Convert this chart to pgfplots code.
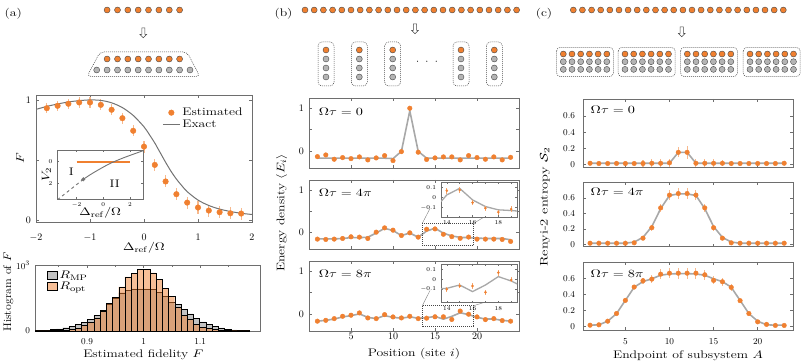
\documentclass[border=0pt]{standalone}
\usepackage{graphicx}
\usepackage{pgfplots}
\pgfplotsset{compat=1.18}
\usetikzlibrary{shapes.arrows}
\definecolor{ora}{RGB}{240,128,48}
\definecolor{lgray}{RGB}{168,168,168}
\definecolor{dgray}{RGB}{115,115,115}
\definecolor{framec}{RGB}{110,110,110}
\definecolor{dotgray}{RGB}{180,180,180}
\definecolor{edgec}{RGB}{70,70,70}
\definecolor{histgray}{RGB}{195,195,195}
\newcommand\lab{\fontsize{11}{13}\selectfont}
\newcommand\tck{\fontsize{10}{11}\selectfont}
\newcommand\tny{\fontsize{6}{7}\selectfont}
\newcommand\sx[2][1.25]{\scalebox{#1}[1]{#2}}
\pgfplotsset{
  fr/.style={scale only axis, anchor=south west,
    axis line style={framec, line width=0.9pt},
    tick style={framec, line width=0.6pt},
    tick align=inside, major tick length=3pt, minor tick length=2pt,
    tick label style={font=\tck}, label style={font=\lab},
    yticklabel style={xshift=-1.5pt}},
  dots/.style={only marks, mark=*, mark size=3pt, mark options={fill=#1, draw=edgec, line width=0.4pt}},
}
\tikzset{
  box/.style={draw=edgec, line width=0.5pt, dash pattern=on 1pt off 1pt, rounded corners=4pt},
  arr/.style={draw=edgec, line width=0.5pt, single arrow, single arrow head extend=1.8pt, minimum height=10pt, inner sep=1.3pt, shape border rotate=270},
}
\begin{document}
\begin{tikzpicture}
\path[use as bounding box] (0,0) rectangle (806pt,364pt);
% ---------------- overlay in pixel coordinates ----------------
\begin{axis}[at={(0pt,0pt)}, anchor=south west, scale only axis, width=806pt, height=364pt,
  xmin=0, xmax=806, ymin=0, ymax=364, y dir=reverse, hide axis, clip=false]
% (a) schematic
\addplot[dots=ora] coordinates {(107.1,10)(117.5,10)(127.8,10)(138.2,10)(148.5,10)(158.9,10)(169.3,10)(179.6,10)};
\addplot[dots=ora] coordinates {(107.1,59)(117.5,59)(127.8,59)(138.2,59)(148.5,59)(158.9,59)(169.3,59)(179.6,59)};
\addplot[dots=dotgray] coordinates {(96.7,70)(107.1,70)(117.5,70)(127.8,70)(138.2,70)(148.5,70)(158.9,70)(169.3,70)(179.6,70)(190.0,70)};
\draw[box] (axis cs:100,52) -- (axis cs:187,52) -- (axis cs:200,76.5) -- (axis cs:87,76.5) -- cycle;
\node[arr] at (axis cs:143.3,32) {};
% (b) schematic
\addplot[dots=ora] coordinates {(305.0,10)(314.2,10)(323.4,10)(332.6,10)(341.8,10)(351.0,10)(360.2,10)(369.4,10)(378.6,10)(387.8,10)(397.0,10)(406.2,10)(415.4,10)(424.6,10)(433.8,10)(443.0,10)(452.2,10)(461.4,10)(470.6,10)(479.8,10)(489.0,10)(498.2,10)(507.4,10)(516.6,10)};
\node[arr] at (axis cs:415,28) {};
\addplot[dots=ora] coordinates {(326,50)(359.3,50)(392.7,50)(461,50)(494.3,50)};
\addplot[dots=dotgray] coordinates {(326,59)(359.3,59)(392.7,59)(461,59)(494.3,59)
  (326,68)(359.3,68)(392.7,68)(461,68)(494.3,68)(326,77)(359.3,77)(392.7,77)(461,77)(494.3,77)};
\draw[box] (axis cs:318,42) rectangle (axis cs:334,86);
\draw[box] (axis cs:351.3,42) rectangle (axis cs:367.3,86);
\draw[box] (axis cs:384.7,42) rectangle (axis cs:400.7,86);
\draw[box] (axis cs:453,42) rectangle (axis cs:469,86);
\draw[box] (axis cs:486.3,42) rectangle (axis cs:502.3,86);
\node[font=\lab] at (axis cs:427,62) {$\cdot\hspace{4pt}\cdot\hspace{4pt}\cdot$};
% (c) schematic
\addplot[dots=ora] coordinates {(573.3,10)(582.4,10)(591.6,10)(600.7,10)(609.8,10)(619.0,10)(628.1,10)(637.2,10)(646.3,10)(655.5,10)(664.6,10)(673.7,10)(682.9,10)(692.0,10)(701.1,10)(710.3,10)(719.4,10)(728.5,10)(737.6,10)(746.8,10)(755.9,10)(765.0,10)(774.2,10)(783.3,10)};
\node[arr] at (axis cs:681.7,31) {};
\addplot[dots=ora] coordinates {(563.3,54)(572.0,54)(580.7,54)(589.4,54)(598.1,54)(606.8,54)
  (625.0,54)(633.7,54)(642.4,54)(651.1,54)(659.8,54)(668.5,54)
  (687.3,54)(696.0,54)(704.7,54)(713.4,54)(722.1,54)(730.8,54)
  (750.0,54)(758.7,54)(767.4,54)(776.1,54)(784.8,54)(793.5,54)};
\addplot[dots=dotgray] coordinates {(563.3,61.7)(572.0,61.7)(580.7,61.7)(589.4,61.7)(598.1,61.7)(606.8,61.7)
  (625.0,61.7)(633.7,61.7)(642.4,61.7)(651.1,61.7)(659.8,61.7)(668.5,61.7)
  (687.3,61.7)(696.0,61.7)(704.7,61.7)(713.4,61.7)(722.1,61.7)(730.8,61.7)
  (750.0,61.7)(758.7,61.7)(767.4,61.7)(776.1,61.7)(784.8,61.7)(793.5,61.7)
  (563.3,69.4)(572.0,69.4)(580.7,69.4)(589.4,69.4)(598.1,69.4)(606.8,69.4)
  (625.0,69.4)(633.7,69.4)(642.4,69.4)(651.1,69.4)(659.8,69.4)(668.5,69.4)
  (687.3,69.4)(696.0,69.4)(704.7,69.4)(713.4,69.4)(722.1,69.4)(730.8,69.4)
  (750.0,69.4)(758.7,69.4)(767.4,69.4)(776.1,69.4)(784.8,69.4)(793.5,69.4)};
\draw[box] (axis cs:556.5,47.3) rectangle (axis cs:613.5,76.7);
\draw[box] (axis cs:618.2,47.3) rectangle (axis cs:675.2,76.7);
\draw[box] (axis cs:680.5,47.3) rectangle (axis cs:737.5,76.7);
\draw[box] (axis cs:743.2,47.3) rectangle (axis cs:800.2,76.7);
% panel letters and shared labels
\node[font=\lab] at (axis cs:13.3,13.5) {\sx{(a)}};
\node[font=\lab] at (axis cs:283.5,13.5) {\sx{(b)}};
\node[font=\lab] at (axis cs:544,13.5) {\sx{(c)}};
\node[font=\lab, rotate=90] at (axis cs:281.7,213) {\sx{Energy density $\langle E_i\rangle$}};
\node[font=\lab, rotate=90] at (axis cs:545,207) {\sx[1.32]{Renyi-2 entropy $\mathcal{S}_2$}};
% inset connectors in (b)
\draw[gray, line width=0.4pt] (axis cs:422.3,223.3) -- (axis cs:430,208.5);
\draw[gray, line width=0.4pt] (axis cs:473.7,223.3) -- (axis cs:483.3,217.5);
\draw[gray, line width=0.4pt] (axis cs:422.3,305.7) -- (axis cs:430,290.5);
\draw[gray, line width=0.4pt] (axis cs:473.7,305.7) -- (axis cs:483.3,302.7);
\end{axis}

% ---------------- (a) main ----------------
\begin{axis}[fr, at={(36pt,141.7pt)}, width=216pt, height=127.3pt,
  xmin=-2, xmax=2, ymin=-0.02, ymax=1.04,
  xtick={-2,-1,0,1,2}, ytick={0,1}, extra y ticks={0.5}, extra y tick labels={},
  xticklabel style={yshift=-8pt},
  xlabel={\sx{$\Delta_{\mathrm{ref}}/\Omega$}}, ylabel={\sx{$F$}},
  xlabel style={at={(axis description cs:0.5,-0.2)}, anchor=center},
  ylabel style={at={(axis description cs:-0.074,0.5)}, anchor=center},
  legend style={at={(0.57,0.93)}, anchor=north west, draw=none, fill=none, font=\lab, row sep=-1pt},
  legend cell align=left]
\addplot[only marks, mark=*, mark size=2.8pt, color=ora,
  error bars/.cd, y dir=both, y explicit, error mark=none,
  error bar style={line width=1.1pt, ora!55}]
coordinates {
(-1.8,0.930) +- (0,0.04)
(-1.6,0.950) +- (0,0.04)
(-1.4,0.967) +- (0,0.04)
(-1.2,0.978) +- (0,0.045)
(-1.0,0.978) +- (0,0.045)
(-0.8,0.958) +- (0,0.045)
(-0.6,0.917) +- (0,0.045)
(-0.4,0.847) +- (0,0.045)
(-0.2,0.742) +- (0,0.045)
(0.0,0.610) +- (0,0.05)
(0.2,0.458) +- (0,0.05)
(0.4,0.320) +- (0,0.05)
(0.6,0.214) +- (0,0.05)
(0.8,0.144) +- (0,0.05)
(1.0,0.103) +- (0,0.055)
(1.2,0.078) +- (0,0.05)
(1.4,0.064) +- (0,0.05)
(1.6,0.055) +- (0,0.05)
(1.8,0.053) +- (0,0.05)
};
\addlegendentry{\sx{Estimated}}
\addplot[no marks, dgray, line width=1pt, smooth] coordinates {
(-2,0.92)(-1.8,0.945)(-1.6,0.965)(-1.4,0.982)(-1.2,0.993)(-1.0,0.999)(-0.8,0.995)(-0.6,0.975)
(-0.4,0.935)(-0.2,0.87)(0,0.775)(0.1,0.71)(0.2,0.64)(0.3,0.56)(0.4,0.48)(0.5,0.405)(0.6,0.34)
(0.7,0.285)(0.8,0.235)(1.0,0.165)(1.2,0.12)(1.4,0.09)(1.6,0.07)(1.8,0.055)(2.0,0.045)};
\addlegendentry{\sx{Exact}}
\end{axis}

% ---------------- (a) inset ----------------
\begin{axis}[fr, at={(57.3pt,164.7pt)}, width=86pt, height=49.3pt,
  axis background/.style={fill=white},
  xmin=-3.45, xmax=3, ymin=-1.08, ymax=3.48, y dir=reverse,
  xtick={-2,0,2}, ytick={0,2}, major tick length=2pt,
  tick label style={font=\tny}, yticklabel style={xshift=0pt},
  xlabel={\sx{$\Delta_{\mathrm{ref}}/\Omega$}}, ylabel={\sx{$V_2$}},
  xlabel style={at={(axis description cs:0.5,-0.28)}, anchor=center},
  ylabel style={at={(axis description cs:-0.125,0.5)}, anchor=center}]
\addplot[no marks, ora, line width=1.8pt] coordinates {(-2,0)(2,0)};
\addplot[no marks, dgray, line width=0.9pt, smooth] coordinates {
(-1.5,1.63)(-1.0,1.22)(-0.5,0.85)(0,0.5)(0.5,0.17)(1.0,-0.1)(1.5,-0.35)(2.0,-0.58)(2.5,-0.8)(2.95,-1.0)};
\addplot[no marks, dgray, line width=0.9pt, dashed] coordinates {(-1.5,1.63)(-3.4,3.48)};
\addplot[only marks, mark=*, mark size=1.8pt, dgray] coordinates {(-1.5,1.63)};
\node[font=\lab] at (axis cs:-2.4,0.95) {\sx{I}};
\node[font=\lab] at (axis cs:0.86,2.0) {\sx{II}};
\end{axis}

% ---------------- (a) histogram ----------------
\begin{axis}[fr, at={(35pt,33pt)}, width=225.7pt, height=66pt,
  xmin=0.808, xmax=1.207, ymin=0, ymax=1000,
  xtick={0.9,1,1.1}, minor xtick={0.85,0.95,1.05,1.15},
  ytick={0,1000}, yticklabels={$0$,$10^3$},
  tick label style={font=\fontsize{9.5}{10}\selectfont}, xticklabel style={yshift=-4pt},
  xlabel={\sx{Estimated fidelity $F$}}, ylabel={\sx[1.08]{Histogram of $F$}},
  xlabel style={at={(axis description cs:0.48,-0.36)}, anchor=center},
  ylabel style={at={(axis description cs:-0.118,0.59)}, anchor=center},
  legend style={at={(0.04,0.97)}, anchor=north west, draw=none, fill=none, font=\lab, row sep=-2pt},
  legend image code/.code={\draw[#1] (0pt,-4pt) rectangle (10pt,4pt);},
  legend cell align=left]
\addplot[ybar interval, fill=histgray, draw=black, line width=0.4pt] coordinates {
(0.802,5)(0.813,8)(0.824,12)(0.835,20)(0.846,32)(0.857,50)(0.868,72)(0.879,100)(0.890,135)
(0.901,175)(0.912,235)(0.923,310)(0.934,410)(0.945,500)(0.956,580)(0.967,620)(0.978,640)
(0.989,640)(1.000,640)(1.011,630)(1.022,590)(1.033,520)(1.044,430)(1.055,400)(1.066,330)
(1.077,260)(1.088,195)(1.099,140)(1.110,100)(1.121,70)(1.132,48)(1.143,30)(1.154,18)
(1.165,10)(1.176,6)(1.187,6)};
\addlegendentry{\sx{$R_{\mathrm{MP}}$}}
\addplot[ybar interval, fill=ora, fill opacity=0.5, draw=black, line width=0.4pt] coordinates {
(0.802,1)(0.813,2)(0.824,3)(0.835,5)(0.846,8)(0.857,14)(0.868,25)(0.879,45)(0.890,85)
(0.901,130)(0.912,200)(0.923,300)(0.934,415)(0.945,510)(0.956,670)(0.967,820)(0.978,870)
(0.989,930)(1.000,930)(1.011,880)(1.022,780)(1.033,650)(1.044,520)(1.055,360)(1.066,240)
(1.077,175)(1.088,100)(1.099,60)(1.110,35)(1.121,20)(1.132,12)(1.143,6)(1.154,4)
(1.165,2)(1.176,1)(1.187,1)};
\addlegendentry{\sx{$R_{\mathrm{opt}}$}}
\end{axis}

% ---------------- (b) ----------------
\pgfplotsset{bax/.style={fr, width=210pt, xmin=0, xmax=25, ymin=-0.4, ymax=1.24,
  xtick={5,10,15,20}, ytick={0,1}, extra y ticks={0.5}, extra y tick labels={}},
  bline/.style={no marks, lgray, line width=1.6pt},
  bpts/.style={only marks, mark=*, mark size=2.3pt, color=ora}}
\begin{axis}[bax, at={(309pt,196pt)}, height=70pt, xticklabels={}]
\addplot[bline] coordinates {(1,-0.17)(2,-0.17)(3,-0.17)(4,-0.17)(5,-0.17)(6,-0.17)(7,-0.17)(8,-0.17)(9,-0.17)(10,-0.18)(11,-0.01)(12,0.94)(13,-0.01)(14,-0.17)(15,-0.17)(16,-0.17)(17,-0.17)(18,-0.17)(19,-0.17)(20,-0.17)(21,-0.17)(22,-0.17)(23,-0.17)(24,-0.17)};
\addplot[bpts] coordinates {(1,-0.133)(2,-0.094)(3,-0.195)(4,-0.156)(5,-0.18)(6,-0.14)(7,-0.21)(8,-0.164)(9,-0.11)(10,-0.227)(11,-0.016)(12,1.0)(13,-0.03)(14,-0.2)(15,-0.164)(16,-0.14)(17,-0.14)(18,-0.21)(19,-0.11)(20,-0.156)(21,-0.195)(22,-0.14)(23,-0.21)(24,-0.15)};
\node[font=\lab, anchor=west] at (rel axis cs:0.03,0.81) {\sx[1.3]{$\Omega\tau = 0$}};
\end{axis}
\begin{axis}[bax, at={(309pt,115pt)}, height=69pt, xticklabels={}]
\addplot[bline] coordinates {(1,-0.16)(2,-0.16)(3,-0.16)(4,-0.15)(5,-0.13)(6,-0.13)(7,-0.12)(8,-0.02)(9,0.09)(10,0.04)(11,-0.08)(12,-0.02)(13,-0.12)(14,0.027)(15,0.093)(16,-0.023)(17,-0.09)(18,-0.123)(19,-0.13)(20,-0.14)(21,-0.15)(22,-0.15)(23,-0.15)(24,-0.18)};
\addplot[bpts] coordinates {(1,-0.165)(2,-0.173)(3,-0.165)(4,-0.15)(5,-0.11)(6,-0.118)(7,-0.15)(8,0.0)(9,0.102)(10,0.047)(11,-0.079)(12,-0.016)(13,-0.118)(14,0.07)(15,0.077)(16,-0.05)(17,-0.106)(18,-0.146)(19,-0.116)(20,-0.165)(21,-0.165)(22,-0.165)(23,-0.173)(24,-0.22)};
\draw[edgec, line width=0.5pt, dash pattern=on 1pt off 1pt] (axis cs:13.5,-0.32) rectangle (axis cs:19.6,0.21);
\node[font=\lab, anchor=west] at (rel axis cs:0.03,0.81) {\sx[1.3]{$\Omega\tau = 4\pi$}};
\end{axis}
\begin{axis}[bax, at={(309pt,33pt)}, height=70pt, xlabel={\sx{Position (site $i$)}},
  xticklabel style={yshift=1pt},
  xlabel style={at={(axis description cs:0.5,-0.33)}, anchor=center}]
\addplot[bline] coordinates {(1,-0.17)(2,-0.15)(3,-0.12)(4,-0.07)(5,-0.04)(6,0.0)(7,-0.08)(8,-0.11)(9,-0.04)(10,-0.08)(11,-0.1)(12,-0.07)(13,-0.1)(14,-0.09)(15,-0.057)(16,-0.123)(17,-0.057)(18,0.027)(19,-0.017)(20,-0.08)(21,-0.12)(22,-0.12)(23,-0.15)(24,-0.17)};
\addplot[bpts] coordinates {(1,-0.17)(2,-0.15)(3,-0.11)(4,-0.055)(5,-0.03)(6,0.023)(7,-0.094)(8,-0.11)(9,-0.016)(10,-0.07)(11,-0.094)(12,-0.055)(13,-0.11)(14,-0.1)(15,-0.067)(16,-0.067)(17,-0.13)(18,0.067)(19,-0.007)(20,-0.07)(21,-0.133)(22,-0.11)(23,-0.156)(24,-0.17)};
\draw[edgec, line width=0.5pt, dash pattern=on 1pt off 1pt] (axis cs:13.5,-0.3) rectangle (axis cs:19.6,0.2);
\node[font=\lab, anchor=west] at (rel axis cs:0.03,0.82) {\sx[1.3]{$\Omega\tau = 8\pi$}};
\end{axis}
% (b) insets
\pgfplotsset{bins/.style={fr, width=76pt, xmin=13.55, xmax=19.45,
  axis background/.style={fill=white},
  xtick={14,16,18}, minor xtick={15,17,19}, ytick={-0.1,0,0.1},
  major tick length=2pt, minor tick length=1.5pt, yticklabel style={xshift=0pt},
  tick label style={font=\tny}, axis line style={framec, line width=0.8pt}},
  ipts/.style={only marks, mark=*, mark size=1.1pt, color=ora,
  error bars/.cd, y dir=both, y explicit, error mark=none, error bar style={line width=0.8pt, ora!70}}}
\begin{axis}[bins, at={(441pt,146.5pt)}, height=35pt, ymin=-0.2, ymax=0.152]
\addplot[bline, line width=1.3pt] coordinates {(13,-0.12)(14,0.027)(15,0.093)(16,-0.023)(17,-0.09)(18,-0.123)(19,-0.13)(20,-0.14)};
\addplot[ipts] coordinates {(14,0.07)+-(0,0.03)(15,0.077)+-(0,0.03)(16,-0.05)+-(0,0.025)(17,-0.106)+-(0,0.025)(18,-0.146)+-(0,0.025)(19,-0.116)+-(0,0.03)};
\end{axis}
\begin{axis}[bins, at={(441pt,61.3pt)}, height=38.4pt, ymin=-0.234, ymax=0.15]
\addplot[bline, line width=1.3pt] coordinates {(13,-0.1)(14,-0.09)(15,-0.057)(16,-0.123)(17,-0.057)(18,0.027)(19,-0.017)(20,-0.08)};
\addplot[ipts] coordinates {(14,-0.1)+-(0,0.025)(15,-0.067)+-(0,0.025)(16,-0.067)+-(0,0.03)(17,-0.13)+-(0,0.025)(18,0.067)+-(0,0.03)(19,-0.007)+-(0,0.025)};
\end{axis}

% ---------------- (c) ----------------
\pgfplotsset{cax/.style={fr, width=210pt, xmin=0.2, xmax=24, ymin=-0.04, ymax=0.81,
  xtick={5,10,15,20}, ytick={0,0.2,0.4,0.6}, yticklabel style={xshift=-3pt},
  tick label style={font=\fontsize{9.5}{10}\selectfont}},
  cpts/.style={only marks, mark=*, mark size=2.3pt, color=ora,
  error bars/.cd, y dir=both, y explicit, error mark=none, error bar style={line width=1.1pt, ora!55}}}
\begin{axis}[cax, at={(583pt,196.3pt)}, height=68.7pt, xticklabels={}]
\addplot[bline] coordinates {(1,0.015)(2,0.015)(3,0.015)(4,0.015)(5,0.015)(6,0.015)(7,0.015)(8,0.015)(9,0.015)(10,0.015)(11,0.15)(12,0.15)(13,0.015)(14,0.015)(15,0.015)(16,0.015)(17,0.015)(18,0.015)(19,0.015)(20,0.015)(21,0.015)(22,0.015)(23,0.015)};
\addplot[cpts] coordinates {
(1,0.015)+-(0,0.005)(2,0.012)+-(0,0.005)(3,0.012)+-(0,0.005)(4,0.013)+-(0,0.005)(5,0.012)+-(0,0.005)
(6,0.012)+-(0,0.008)(7,0.012)+-(0,0.04)(8,0.015)+-(0,0.05)(9,0.015)+-(0,0.05)(10,0.02)+-(0,0.05)
(11,0.15)+-(0,0.06)(12,0.15)+-(0,0.08)(13,0.015)+-(0,0.05)(14,0.015)+-(0,0.05)(15,0.015)+-(0,0.05)
(16,0.015)+-(0,0.04)(17,0.012)+-(0,0.03)(18,0.012)+-(0,0.01)(19,0.012)+-(0,0.005)(20,0.012)+-(0,0.005)
(21,0.012)+-(0,0.005)(22,0.012)+-(0,0.005)(23,0.015)+-(0,0.005)};
\node[font=\lab, anchor=west] at (rel axis cs:0.02,0.84) {\sx[1.3]{$\Omega\tau = 0$}};
\end{axis}
\begin{axis}[cax, at={(583pt,117.3pt)}, height=64.4pt, ymax=0.8, ymin=-0.03, xticklabels={}]
\addplot[bline] coordinates {(1,0.015)(2,0.015)(3,0.015)(4,0.015)(5,0.015)(6,0.03)(7,0.09)(8,0.23)(9,0.46)(10,0.63)(11,0.65)(12,0.65)(13,0.63)(14,0.46)(15,0.23)(16,0.09)(17,0.03)(18,0.015)(19,0.015)(20,0.015)(21,0.015)(22,0.015)(23,0.015)};
\addplot[cpts] coordinates {
(1,0.015)+-(0,0.005)(2,0.015)+-(0,0.005)(3,0.015)+-(0,0.005)(4,0.015)+-(0,0.005)(5,0.015)+-(0,0.005)
(6,0.02)+-(0,0.01)(7,0.08)+-(0,0.03)(8,0.215)+-(0,0.04)(9,0.47)+-(0,0.05)(10,0.635)+-(0,0.06)
(11,0.655)+-(0,0.07)(12,0.655)+-(0,0.07)(13,0.635)+-(0,0.06)(14,0.47)+-(0,0.05)(15,0.215)+-(0,0.04)
(16,0.08)+-(0,0.03)(17,0.02)+-(0,0.01)(18,0.015)+-(0,0.005)(19,0.015)+-(0,0.005)(20,0.015)+-(0,0.005)
(21,0.015)+-(0,0.005)(22,0.015)+-(0,0.005)(23,0.015)+-(0,0.005)};
\node[font=\lab, anchor=west] at (rel axis cs:0.02,0.85) {\sx[1.3]{$\Omega\tau = 4\pi$}};
\end{axis}
\begin{axis}[cax, at={(583pt,34pt)}, height=68pt, xlabel={\sx{Endpoint of subsystem $A$}},
  xticklabel style={yshift=-5.5pt},
  xlabel style={at={(axis description cs:0.5,-0.38)}, anchor=center}]
\addplot[bline] coordinates {(1,0.02)(2,0.025)(3,0.07)(4,0.165)(5,0.33)(6,0.495)(7,0.565)(8,0.6)(9,0.645)(10,0.66)(11,0.665)(12,0.665)(13,0.66)(14,0.645)(15,0.6)(16,0.565)(17,0.495)(18,0.33)(19,0.165)(20,0.07)(21,0.025)(22,0.02)(23,0.02)};
\addplot[cpts] coordinates {
(1,0.02)+-(0,0.01)(2,0.025)+-(0,0.01)(3,0.07)+-(0,0.01)(4,0.166)+-(0,0.015)(5,0.33)+-(0,0.015)
(6,0.497)+-(0,0.02)(7,0.576)+-(0,0.04)(8,0.596)+-(0,0.05)(9,0.658)+-(0,0.06)(10,0.67)+-(0,0.06)
(11,0.67)+-(0,0.07)(12,0.67)+-(0,0.07)(13,0.67)+-(0,0.07)(14,0.65)+-(0,0.06)(15,0.58)+-(0,0.05)
(16,0.563)+-(0,0.05)(17,0.493)+-(0,0.04)(18,0.327)+-(0,0.015)(19,0.166)+-(0,0.01)(20,0.062)+-(0,0.01)
(21,0.03)+-(0,0.01)(22,0.017)+-(0,0.01)(23,0.017)+-(0,0.01)};
\node[font=\lab, anchor=west] at (rel axis cs:0.02,0.83) {\sx[1.3]{$\Omega\tau = 8\pi$}};
\end{axis}
\end{tikzpicture}
\end{document}
